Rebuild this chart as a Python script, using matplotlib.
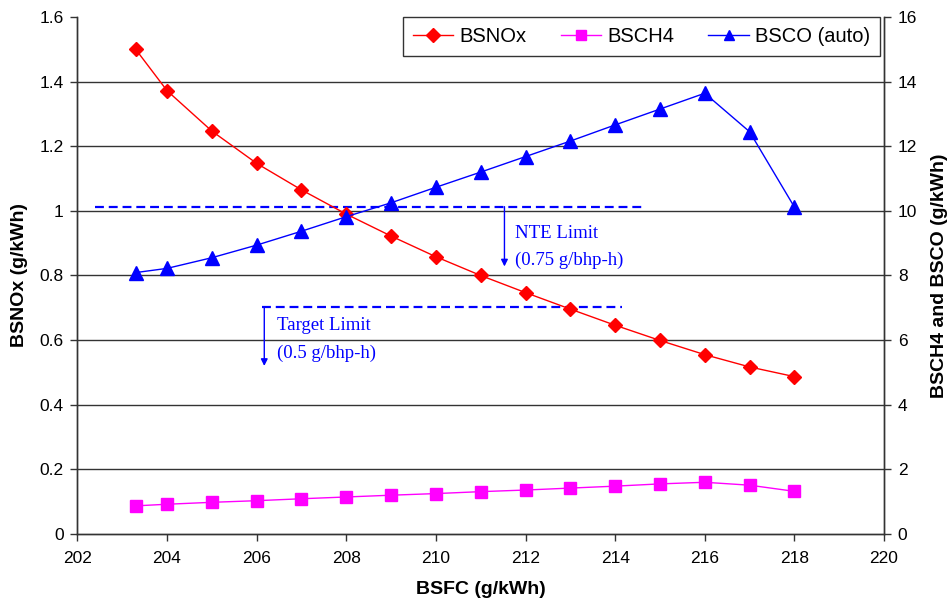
import matplotlib
matplotlib.use("Agg")
import matplotlib.pyplot as plt

plt.rcParams['font.family'] = ['Liberation Sans', 'DejaVu Sans']

bsfc = [203.3, 204, 205, 206, 207, 208, 209, 210, 211, 212, 213, 214, 215, 216, 217, 218]
bsnox = [1.50, 1.372, 1.247, 1.147, 1.065, 0.99, 0.922, 0.858, 0.80, 0.747, 0.696, 0.646, 0.599, 0.555, 0.517, 0.487]
bsch4 = [0.87, 0.92, 0.98, 1.03, 1.09, 1.145, 1.20, 1.25, 1.31, 1.36, 1.42, 1.48, 1.55, 1.60, 1.51, 1.32]
bsco = [8.09, 8.22, 8.55, 8.94, 9.37, 9.82, 10.25, 10.73, 11.20, 11.68, 12.16, 12.66, 13.15, 13.64, 12.45, 10.12]

x_ticks = [202, 204, 206, 208, 210, 212, 214, 216, 218, 220]
left_ticks = [0, 0.2, 0.4, 0.6, 0.8, 1.0, 1.2, 1.4, 1.6]
left_labels = ['0', '0.2', '0.4', '0.6', '0.8', '1', '1.2', '1.4', '1.6']
right_ticks = [0, 2, 4, 6, 8, 10, 12, 14, 16]

nte_level = 1.013
nte_span = [202.4, 214.63]
target_level = 0.703
target_span = [206.12, 214.15]

fig = plt.figure(figsize=(9.5, 6.05), dpi=100)
ax = fig.add_axes([0.0815, 0.1174, 0.8490, 0.8545])
ax2 = ax.twinx()

ax.set_xlim(202, 220)
ax.set_ylim(0, 1.6)
ax2.set_ylim(0, 16)

for y in left_ticks[1:-1]:
    ax.axhline(y, color='#333333', lw=1.0, zorder=0)

ax.plot(nte_span, [nte_level, nte_level], color='#0000FF', lw=1.6, dashes=(4, 2.2), zorder=2)
ax.plot(target_span, [target_level, target_level], color='#0000FF', lw=1.6, dashes=(4, 2.2), zorder=2)
ax.annotate('', xy=(211.53, 0.828), xytext=(211.53, nte_level),
            arrowprops=dict(arrowstyle='-|>', color='#0000FF', lw=1.0, mutation_scale=10, shrinkA=0, shrinkB=0))
ax.annotate('', xy=(206.17, 0.52), xytext=(206.17, target_level),
            arrowprops=dict(arrowstyle='-|>', color='#0000FF', lw=1.0, mutation_scale=10, shrinkA=0, shrinkB=0))
serif = dict(family=['Liberation Serif', 'DejaVu Serif'], fontsize=13.5, color='#0000FF', va='center', ha='left')
ax.text(211.77, 0.93, 'NTE Limit', **serif)
ax.text(211.77, 0.846, '(0.75 g/bhp-h)', **serif)
ax.text(206.45, 0.644, 'Target Limit', **serif)
ax.text(206.45, 0.56, '(0.5 g/bhp-h)', **serif)

l1, = ax.plot(bsfc, bsnox, color='#FF0000', lw=1.0, marker='D', ms=7, mfc='#FF0000', mec='#FF0000', zorder=3)
l2, = ax2.plot(bsfc, bsch4, color='#FF00FF', lw=1.0, marker='s', ms=8.5, mfc='#FF00FF', mec='#FF00FF')
l3, = ax2.plot(bsfc, bsco, color='#0000FF', lw=1.0, marker='^', ms=10, mfc='#0000FF', mec='#0000FF')

ax.set_xticks(x_ticks)
ax.set_xticklabels([str(t) for t in x_ticks])
ax.set_yticks(left_ticks)
ax.set_yticklabels(left_labels)
ax2.set_yticks(right_ticks)
ax2.set_yticklabels([str(t) for t in right_ticks])

for a in (ax, ax2):
    a.spines['top'].set_visible(False)
    for s in a.spines.values():
        s.set_color('#333333')
        s.set_linewidth(1.0)
    a.tick_params(labelsize=12.5, length=5, width=1, color='#333333', direction='out', pad=5)
ax.tick_params(axis='x', pad=7)

ax.set_xlabel('BSFC (g/kWh)', fontsize=14, fontweight='bold', labelpad=11)
ax.set_ylabel('BSNOx (g/kWh)', fontsize=14, fontweight='bold', labelpad=8)
ax2.set_ylabel('BSCH4 and BSCO (g/kWh)', fontsize=14, fontweight='bold', labelpad=10)

leg = ax2.legend([l1, l2, l3], ['BSNOx', 'BSCH4', 'BSCO (auto)'], ncol=3, loc='upper right',
                 bbox_to_anchor=(0.995, 1.0), borderaxespad=0, fancybox=False, frameon=True,
                 edgecolor='black', fontsize=14.5, handlelength=2.0, columnspacing=1.7,
                 handletextpad=0.3, borderpad=0.5)
leg.get_frame().set_linewidth(1.0)
for h in leg.legend_handles:
    h.set_markersize(7.5)

fig.savefig('out.png', dpi=100, facecolor='white')
